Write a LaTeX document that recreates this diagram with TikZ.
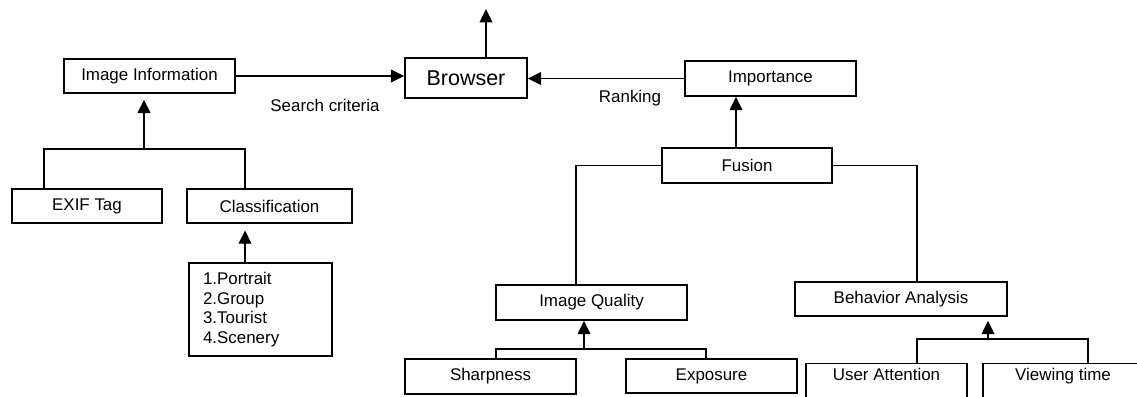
\documentclass[tikz,border=0pt]{standalone}
\usepackage{fontspec}
\setmainfont{Liberation Sans}
\usetikzlibrary{positioning,arrows.meta}

\begin{document}
\begin{tikzpicture}[x=0.75pt, y=-0.75pt, line width=1.1pt,
  font=\fontsize{12.7}{14.7}\selectfont,
  box/.style={draw, inner sep=0pt, minimum width=128.25pt, minimum height=25.5pt, align=center},
  bigbox/.style={box, font=\fontsize{16.1}{18}\selectfont},
  cutbox/.style={box, anchor=north, inner ysep=3pt, text height=9.2pt, text depth=20pt},
  lbl/.style={inner sep=0pt},
  arr/.style={-{Triangle[length=10pt,width=9.5pt]}}]
\useasboundingbox (0,0) rectangle (1137,396);
\clip (0,0) rectangle (1137,396);
% top row
\node[box] (info) at (149.5,76) {Image Information};
\node[bigbox, minimum width=91.5pt, minimum height=30pt] (brow) at (466,78) {Browser};
\node[box, minimum height=26.25pt] (imp) at (770.5,78.5) {Importance};
\node[box, minimum width=127.5pt, minimum height=26.25pt] (fus) at (747,165.5) {Fusion};
\coordinate (out) at (486,9);
\node[lbl] (search) at (325,105) {Search criteria};
\node[lbl] (rank) at (630,98) {Ranking};
% left branch
\node[box, minimum width=112.5pt] (exif) at (87,206) {EXIF Tag};
\node[box, minimum width=123.75pt] (cls) at (269.5,206) {Classification};
\node[draw, inner xsep=10.5pt, inner ysep=0pt, text width=86.25pt, minimum height=69.75pt, align=left] (cats) at (260.5,309.5)
  {1.Portrait\\2.Group\\3.Tourist\\4.Scenery};
% right branch
\node[box, minimum width=143.25pt, minimum height=26.25pt] (iq) at (591.5,302.5) {Image Quality};
\node[box, minimum width=159pt] (beh) at (901,299) {Behavior Analysis};
\node[box, minimum height=26.25pt] (sharp) at (490.5,376.5) {Sharpness};
\node[box] (expo) at (711.5,376) {Exposure};
\node[cutbox, minimum width=120.75pt] (att) at (886.5,363) {User Attention};
\node[cutbox, minimum width=120pt] (view) at (1063,363) {Viewing time};
% junctions
\coordinate (jl) at (144,149);
\coordinate (jq) at (584,349);
\coordinate (jb) at (988,339);

\draw[arr] (info.east) -- (info.east -| brow.west);
\draw[arr] (brow.north -| out) -- (out);
\draw[arr] (imp.west) -- (imp.west -| brow.east);
\draw[arr] ([xshift=-8.25pt]fus.north) -- ([xshift=-8.25pt]fus.north |- imp.south);
\draw (fus.west) -| ([xshift=-11.6pt]iq.north);
\draw (fus.east) -| ([xshift=12pt]beh.north);

\draw ([xshift=-32.25pt]exif.north) |- (jl) -| ([xshift=-18.4pt]cls.north);
\draw[arr, shorten >=4.5pt] (jl) -- (jl |- info.south);
\draw[arr, shorten >=5pt] ([xshift=-11.6pt]cats.north) -- ([xshift=-11.6pt]cats.north |- cls.south);

\draw ([xshift=4.1pt]sharp.north) |- (jq) -| ([xshift=-4.1pt]expo.north);
\draw[arr] (jq) -- (jq |- iq.south);
\draw ([xshift=22.9pt]att.north) |- (jb) -| ([xshift=18.75pt]view.north);
\draw[arr, shorten >=3pt] (jb) -- (jb |- beh.south);
\end{tikzpicture}
\end{document}
